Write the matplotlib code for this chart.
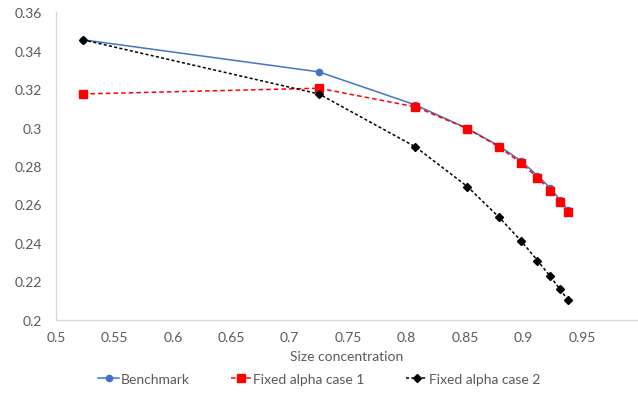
import matplotlib.pyplot as plt

plt.rcParams['font.family'] = ['Lato', 'DejaVu Sans']

x = [0.523, 0.725, 0.8075, 0.852, 0.879, 0.898, 0.912, 0.923, 0.931, 0.938]
benchmark = [0.3457, 0.3290, 0.3118, 0.2995, 0.2905, 0.2826, 0.2750, 0.2685, 0.2625, 0.2570]
case1 = [0.3175, 0.3205, 0.3108, 0.2995, 0.2900, 0.2815, 0.2740, 0.2672, 0.2615, 0.2562]
case2 = [0.3457, 0.3175, 0.2900, 0.2693, 0.2534, 0.2410, 0.2308, 0.2225, 0.2160, 0.2103]

grey = '#595959'

fig = plt.figure(figsize=(6.38, 4.06), dpi=100)
ax = fig.add_axes([56 / 638, 0.2101, 1 - 56 / 638, 0.9672 - 0.2101])

ax.plot(x, benchmark, color='#4472C4', lw=1.1, marker='o', ms=4.5, label='Benchmark')
ax.plot(x, case1, color='#FF0000', lw=1.1, ls=(0, (3, 2)), marker='s', ms=5.5, label='Fixed alpha case 1')
ax.plot(x, case2, color='black', lw=1.1, ls=(0, (2, 1.5)), marker='D', ms=4, label='Fixed alpha case 2')

ax.set_xlim(0.5, 0.998)
ax.set_ylim(0.2, 0.36)
ax.set_xticks([0.5, 0.55, 0.6, 0.65, 0.7, 0.75, 0.8, 0.85, 0.9, 0.95])
ax.set_xticklabels(['0.5', '0.55', '0.6', '0.65', '0.7', '0.75', '0.8', '0.85', '0.9', '0.95'])
ax.set_yticks([0.2, 0.22, 0.24, 0.26, 0.28, 0.3, 0.32, 0.34, 0.36])
ax.set_yticklabels(['0.2', '0.22', '0.24', '0.26', '0.28', '0.3', '0.32', '0.34', '0.36'])
ax.tick_params(length=0, labelsize=10, colors=grey, pad=8)
ax.tick_params(axis='y', pad=10)

for s in ['top', 'right']:
    ax.spines[s].set_visible(False)
for s in ['left', 'bottom']:
    ax.spines[s].set_color('#d9d9d9')
    ax.spines[s].set_linewidth(1)

ax.set_xlabel('Size concentration', fontsize=10, color=grey, labelpad=5)

fig.legend(loc='center', bbox_to_anchor=(0.5, 1 - 380 / 406), ncol=3, frameon=False,
           fontsize=10, labelcolor=grey, handlelength=1.5, handletextpad=0.1, columnspacing=3.0)

fig.savefig('out.png', dpi=100)
